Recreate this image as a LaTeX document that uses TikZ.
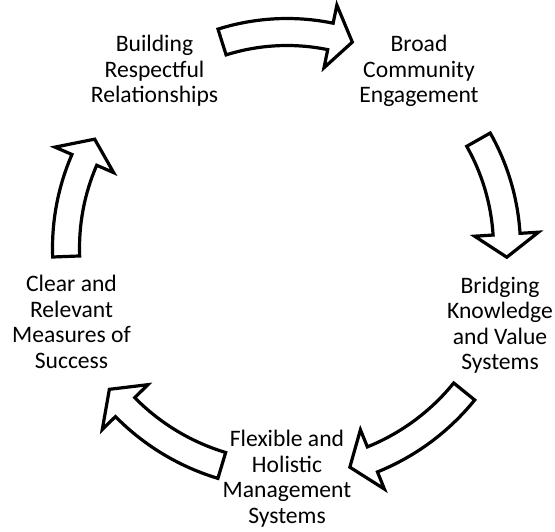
\documentclass[tikz,border=0pt]{standalone}
\usepackage{fontspec}
\setmainfont{Carlito}
\usepackage{tikz}
\usetikzlibrary{calc}

% curved block arrow on the cycle: tail angle, head angle, radius
\newcommand{\cyclearrow}[3]{%
    \draw[blockarrow] ({#1}:{#3+13.5}) arc[start angle=#1, end angle=#2, radius=#3+13.5]
        -- ({#2}:{#3+32}) -- ({#2-6}:{#3}) -- ({#2}:{#3-32})
        -- ({#2}:{#3-13.5}) arc[start angle=#2, end angle=#1, radius=#3-13.5] -- cycle;
}

\begin{document}
\begin{tikzpicture}[x=0.75pt, y=0.75pt,
    stage/.style={align=center, anchor=north, inner sep=0pt, font=\fontsize{17.7}{19.2}\selectfont},
    blockarrow/.style={draw, line width=2.4pt, fill=white, line join=miter}]
    \useasboundingbox (0,0) rectangle (555,-531);

    % Stages
    \node[stage] (building) at (154.5,-35) {Building\\Respectful\\Relationships};
    \node[stage] (broad) at (419,-35) {Broad\\Community\\Engagement};
    \node[stage] (bridging) at (500,-276.5) {Bridging\\Knowledge\\and Value\\Systems};
    \node[stage] (flexible) at (287,-430) {Flexible and\\Holistic\\Management\\Systems};
    \node[stage] (clear) at (71.5,-275) {Clear and\\Relevant\\Measures of\\Success};

    % Arrows round the cycle
    \begin{scope}[shift={(287,-248)}]
        \cyclearrow{107.5}{78.4}{216}
        \cyclearrow{29.5}{3.6}{220}
        \cyclearrow{-39}{-68}{228}
        \cyclearrow{-106.7}{-135.5}{227}
        \cyclearrow{182.2}{156.5}{221}
    \end{scope}
\end{tikzpicture}
\end{document}
